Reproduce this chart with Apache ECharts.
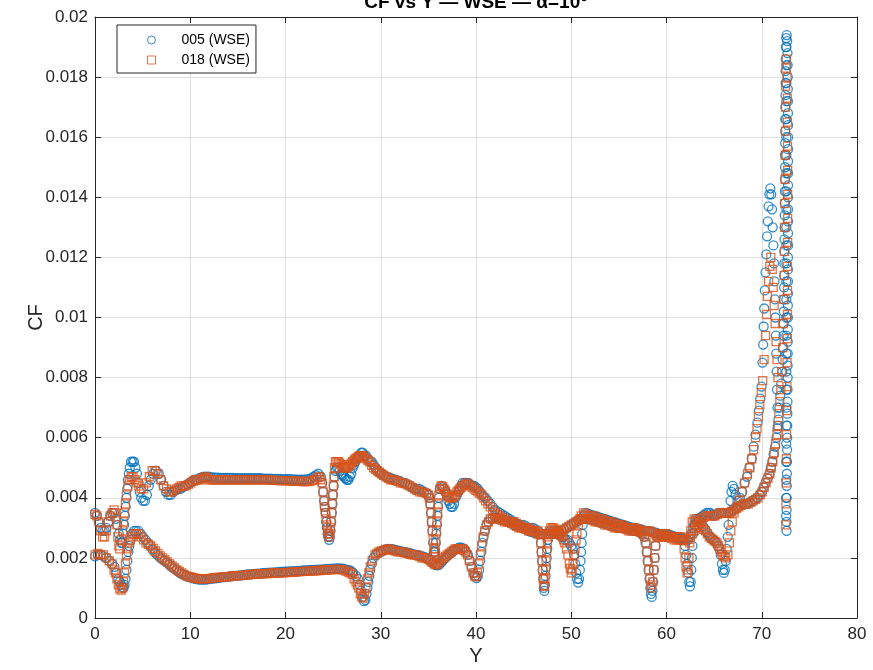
<!DOCTYPE html>
<html>
<head>
<meta charset="utf-8">
<script src="https://cdn.jsdelivr.net/npm/echarts/dist/echarts.min.js"></script>
<style>
  html, body { margin: 0; padding: 0; background: #fff; }
  #chart { width: 873px; height: 670px; }
</style>
</head>
<body>
<div id="chart"></div>
<script>
// Skin friction coefficient along the span, two runs. Each point is [Y, CF].

// Run 005 — upper band (root to tip)
const upper005 = [[0,0.0035],[0.2,0.0034],[0.4,0.0032],[0.6,0.0030],[0.8,0.0029],[1.0,0.0029],[1.2,0.0030],[1.4,0.0032],[1.6,0.0034],[1.8,0.0035],[2.0,0.0035],[2.2,0.0033],[2.35,0.0031],[2.5,0.0028],[2.62,0.0026],[2.75,0.0025],[2.88,0.0025],[2.98,0.0028],[3.06,0.0031],[3.14,0.0034],[3.22,0.0037],[3.3,0.0040],[3.38,0.0043],[3.46,0.0046],[3.55,0.0048],[3.65,0.0050],[3.78,0.0052],[3.95,0.0052],[4.1,0.0052],[4.25,0.0050],[4.4,0.0048],[4.55,0.0045],[4.7,0.0042],[4.85,0.0040],[5.05,0.0039],[5.25,0.0039],[5.45,0.0041],[5.65,0.0044],[5.85,0.0046],[6.1,0.0048],[6.4,0.0049],[6.7,0.0048],[6.95,0.0046],[7.2,0.0044],[7.45,0.0042],
[7.7,0.0041],[7.95,0.0041],[8.2,0.0042],[8.45,0.00425],[8.7,0.0043],[8.95,0.0043],[9.2,0.00435],[9.45,0.0044],[9.7,0.00445],[9.95,0.0045],[10.2,0.00455],[10.45,0.0046],[10.7,0.0046],[10.95,0.00465],[11.2,0.00468],[11.45,0.0047],[11.7,0.0047],[11.95,0.0047],[12.2,0.00468],[12.45,0.00468],[12.7,0.00467],[12.95,0.00467],[13.2,0.00466],[13.45,0.00466],[13.7,0.00466],[13.95,0.00466],[14.2,0.00466],[14.45,0.00466],[14.7,0.00465],[14.95,0.00465],[15.2,0.00465],[15.45,0.00465],[15.7,0.00465],[15.95,0.00465],[16.2,0.00465],[16.45,0.00465],[16.7,0.00465],[16.95,0.00465],[17.2,0.00465],[17.45,0.00465],[17.7,0.00464],[17.95,0.00464],[18.2,0.00464],[18.45,0.00464],[18.7,0.00463],[18.95,0.00463],[19.2,0.00463],[19.45,0.00463],[19.7,0.00462],[19.95,0.00462],[20.2,0.00462],[20.45,0.00462],[20.7,0.00461],[20.95,0.00461],[21.2,0.0046],[21.45,0.0046],[21.7,0.0046],[21.95,0.0046],[22.2,0.00461],[22.45,0.00462],[22.7,0.00465],[22.95,0.0047],[23.2,0.00475],[23.45,0.0048],[23.7,0.0047],
[23.85,0.0045],[23.95,0.0042],[24.05,0.0039],[24.12,0.0037],[24.2,0.0035],[24.27,0.0032],[24.35,0.0030],[24.42,0.0028],[24.5,0.0027],[24.58,0.0026],[24.66,0.0027],[24.73,0.0029],[24.8,0.0032],[24.87,0.0035],[24.94,0.0038],[25.0,0.0041],[25.07,0.0044],[25.15,0.0047],
[25.25,0.0049],[25.4,0.0050],[25.55,0.0050],[25.7,0.0049],[25.85,0.0048],[26.0,0.00475],[26.15,0.0047],[26.3,0.00465],[26.45,0.0046],[26.6,0.0046],[26.75,0.0047],[26.9,0.0048],[27.05,0.0050],[27.2,0.0051],[27.35,0.0052],[27.5,0.0053],[27.65,0.00535],[27.8,0.0054],[27.95,0.0055],[28.1,0.0055],[28.25,0.0054],[28.45,0.0054],[28.65,0.0053],[28.85,0.0052],[29.05,0.0052],[29.25,0.0051],[29.45,0.0050],[29.65,0.0049],[29.85,0.00485],[30.05,0.0048],[30.3,0.00475],[30.55,0.0047],[30.8,0.00467],[31.05,0.00465],[31.3,0.00462],[31.55,0.0046],[31.8,0.00457],[32.05,0.00455],[32.3,0.0045],[32.55,0.0045],[32.8,0.00445],[33.05,0.0044],[33.3,0.00435],[33.55,0.0043],[33.8,0.0043],[34.05,0.0043],[34.3,0.00425],[34.55,0.0042],[34.8,0.00415],[35.0,0.0041],
[35.1,0.0040],[35.2,0.0038],[35.28,0.0035],[35.35,0.0032],[35.42,0.0029],[35.5,0.0025],[35.57,0.0022],[35.65,0.0021],[35.72,0.0022],[35.78,0.0025],[35.84,0.0028],[35.9,0.0031],[35.96,0.0034],[36.02,0.0037],[36.1,0.0040],
[36.2,0.0043],[36.35,0.0044],[36.5,0.00435],[36.65,0.0043],[36.8,0.0042],[36.95,0.0041],[37.1,0.0039],[37.25,0.0038],[37.4,0.0037],[37.55,0.0037],[37.7,0.0038],[37.85,0.0040],[38.0,0.0041],[38.15,0.0042],[38.3,0.0043],[38.45,0.0044],[38.6,0.0045],[38.8,0.0045],[39.0,0.0045],[39.2,0.0045],[39.4,0.00445],[39.6,0.0044],[39.8,0.0044],[40.0,0.00435],[40.2,0.0043],[40.4,0.0042],[40.6,0.0041],[40.8,0.00405],[41.0,0.0040],[41.25,0.0039],[41.5,0.0038],[41.75,0.0037],[42.0,0.0036],[42.25,0.00355],[42.5,0.0035],[42.75,0.00345],[43.0,0.0034],[43.25,0.00335],[43.5,0.0033],[43.75,0.00325],[44.0,0.0032],[44.25,0.00315],[44.5,0.0031],[44.75,0.0031],[45.0,0.0031],[45.25,0.00305],[45.5,0.0030],[45.75,0.0030],[46.0,0.0030],[46.25,0.00295],[46.5,0.0029],
[46.75,0.0028],[46.82,0.0025],[46.88,0.0022],[46.94,0.0019],[47.0,0.0016],[47.06,0.0013],[47.12,0.0010],[47.18,0.0009],[47.24,0.0011],[47.3,0.0014],[47.36,0.0017],[47.42,0.0020],[47.48,0.0023],[47.55,0.0026],
[47.65,0.0028],[47.8,0.0029],[48.0,0.0029],[48.2,0.0029],[48.4,0.0029],[48.6,0.00285],[48.8,0.0028],[49.0,0.0027],[49.2,0.0027],[49.4,0.0026],[49.6,0.0026],[49.8,0.0025],[50.0,0.0024],
[50.15,0.0023],[50.3,0.0021],[50.42,0.0018],[50.52,0.0015],[50.62,0.0013],[50.72,0.00118],[50.82,0.0013],[50.9,0.0016],[50.97,0.0019],[51.03,0.0022],[51.09,0.0025],[51.15,0.0028],[51.2,0.0031],[51.3,0.0034],
[51.45,0.0035],[51.7,0.00348],[51.95,0.00345],[52.2,0.00342],[52.45,0.0034],[52.7,0.00337],[52.95,0.00335],[53.2,0.00332],[53.45,0.0033],[53.7,0.00327],[53.95,0.00325],[54.2,0.00322],[54.45,0.0032],[54.7,0.00317],[54.95,0.00315],[55.2,0.00312],[55.45,0.0031],[55.7,0.00307],[55.95,0.00305],[56.2,0.00302],[56.45,0.003],[56.7,0.003],[56.95,0.00298],[57.2,0.00296],[57.45,0.00294],[57.7,0.0029],[57.95,0.0029],[58.2,0.0029],[58.45,0.00288],[58.7,0.00285],[58.95,0.00283],[59.2,0.0028],[59.45,0.00278],[59.7,0.00276],[59.95,0.00274],[60.2,0.00272],[60.45,0.0027],[60.7,0.0027],[60.95,0.00268],[61.2,0.00266],[61.45,0.00264],[61.7,0.00262],[61.95,0.0026],[62.2,0.0026],[62.4,0.0027],[62.6,0.0028],[62.8,0.003],[63.0,0.0031],[63.2,0.0032],[63.4,0.0033],[63.6,0.00335],[63.8,0.0034],[64.0,0.00345],[64.2,0.0035],[64.4,0.0035],[64.6,0.0035],[64.8,0.00345],[65.0,0.0034],[65.25,0.00345],[65.5,0.0035],[65.75,0.0035],[66.0,0.0035],[66.25,0.0035],[66.5,0.0035],[66.75,0.00355],[67.0,0.0036],[67.25,0.00365],[67.5,0.0037],[67.75,0.00375],[68.0,0.0038],[68.25,0.0038],[68.5,0.0038],[68.75,0.00385],[69.0,0.0039],[69.25,0.00395],[69.5,0.004],[69.75,0.0041],[70.0,0.0042],[70.2,0.00435],[70.4,0.0045],[70.6,0.00465],[70.8,0.0048],[70.95,0.005],[71.1,0.0052],[71.25,0.00545],[71.4,0.0057],[71.55,0.006],[71.65,0.0063],[71.75,0.0066],[71.85,0.0070],[71.95,0.0074]];

// Run 005 — lower band
const lower005 = [[0,0.00205],[0.3,0.0021],[0.6,0.0021],[0.9,0.00205],[1.2,0.0020],[1.5,0.0019],[1.8,0.0018],[2.05,0.0017],[2.25,0.0015],[2.45,0.0013],[2.6,0.0012],[2.75,0.0011],[2.9,0.00102],[3.0,0.0010],[3.1,0.0011],[3.2,0.0013],[3.3,0.0016],[3.4,0.0019],[3.5,0.0022],[3.6,0.0024],[3.75,0.0026],[3.9,0.0028],
[4.1,0.0029],[4.3,0.0029],[4.55,0.0029],[4.8,0.0028],[5.05,0.0027],[5.3,0.0026],[5.55,0.0025],[5.8,0.0024],[6.05,0.00228],[6.3,0.00218],[6.55,0.0021],[6.8,0.00202],[7.05,0.00196],[7.3,0.0019],[7.55,0.00184],[7.8,0.00178],[8.05,0.0017],[8.3,0.00165],[8.55,0.0016],[8.8,0.00153],[9.05,0.00148],[9.3,0.00144],[9.55,0.0014],[9.8,0.00137],[10.05,0.00135],[10.3,0.00132],[10.55,0.0013],[10.8,0.00129],[11.05,0.00128],[11.3,0.00128],[11.55,0.00128],[11.8,0.00129],[12.05,0.0013],[12.3,0.00131],[12.55,0.00132],[12.8,0.00133],[13.05,0.00134],[13.3,0.00135],[13.55,0.00136],[13.8,0.00137],[14.05,0.00138],[14.3,0.00139],[14.55,0.0014],[14.8,0.0014],[15.05,0.00141],[15.3,0.00142],[15.55,0.00143],[15.8,0.00144],[16.05,0.00145],[16.3,0.00145],[16.55,0.00146],[16.8,0.00147],[17.05,0.00148],[17.3,0.00148],[17.55,0.00149],[17.8,0.0015],[18.05,0.0015],[18.3,0.00151],[18.55,0.00151],[18.8,0.00152],[19.05,0.00152],[19.3,0.00153],[19.55,0.00153],[19.8,0.00154],[20.05,0.00154],[20.3,0.00155],[20.55,0.00155],[20.8,0.00156],[21.05,0.00156],[21.3,0.00157],[21.55,0.00157],[21.8,0.00158],[22.05,0.00158],[22.3,0.00159],[22.55,0.00159],[22.8,0.0016],[23.05,0.0016],[23.3,0.00161],[23.55,0.00161],[23.8,0.00162],[24.05,0.00162],[24.3,0.00163],[24.55,0.00163],[24.8,0.00164],[25.05,0.00164],[25.3,0.00165],[25.55,0.00165],[25.8,0.00165],[26.05,0.00164],[26.3,0.00162],[26.55,0.0016],[26.8,0.00158],[27.0,0.00153],
[27.1,0.0015],[27.4,0.0014],[27.6,0.0013],[27.8,0.0011],[27.95,0.0009],[28.1,0.0007],[28.25,0.00056],[28.38,0.0006],[28.5,0.0008],[28.6,0.0010],[28.7,0.0012],[28.8,0.0014],[28.9,0.0016],[29.05,0.0018],[29.25,0.0020],
[29.5,0.0021],[29.75,0.00217],[30.0,0.0022],[30.25,0.00225],[30.5,0.00228],[30.75,0.0023],[31.0,0.0023],[31.25,0.00229],[31.5,0.00227],[31.75,0.00225],[32.0,0.00223],[32.25,0.00221],[32.5,0.0022],[32.75,0.00218],[33.0,0.00216],[33.25,0.00214],[33.5,0.00212],[33.75,0.0021],[34.0,0.00208],[34.25,0.00206],[34.5,0.00204],[34.75,0.00201],[35.0,0.00197],[35.25,0.0019],[35.5,0.00183],[35.75,0.00177],[35.95,0.00175],[36.15,0.00178],[36.35,0.00185],[36.55,0.00192],[36.75,0.00199],[36.95,0.00205],[37.15,0.00211],[37.35,0.00216],[37.55,0.00221],[37.75,0.00226],[37.95,0.0023],[38.15,0.00233],[38.35,0.00235],[38.55,0.00233],[38.75,0.0023],
[38.95,0.0022],[39.15,0.0021],[39.35,0.0019],[39.55,0.0017],[39.75,0.0015],[39.9,0.0014],[40.05,0.00133],[40.2,0.0014],[40.32,0.0016],[40.44,0.0019],[40.56,0.0022],[40.68,0.0025],[40.8,0.0027],[40.95,0.0029],[41.1,0.0031],[41.3,0.0032],
[41.5,0.0033],[41.75,0.00333],[42.0,0.00335],[42.25,0.00333],[42.5,0.0033],[42.75,0.00327],[43.0,0.00325],[43.25,0.00322],[43.5,0.0032],[43.75,0.00315],[44.0,0.0031],[44.25,0.00307],[44.5,0.00305],[44.75,0.00302],[45.0,0.003],[45.25,0.00295],[45.5,0.0029],[45.75,0.00287],[46.0,0.00285],[46.25,0.00282],[46.5,0.0028],[46.75,0.0028],[47.0,0.0028],[47.25,0.0028],[47.5,0.0028],[47.75,0.0028],[48.0,0.0028],[48.25,0.0028],[48.5,0.0028],[48.75,0.00285],[49.0,0.0029],[49.25,0.00295],[49.5,0.003],[49.75,0.00305],[50.0,0.0031],[50.25,0.00315],[50.5,0.0032],[50.75,0.00325],[51.0,0.0033],[51.25,0.0033],[51.5,0.0033],[51.75,0.0033],[52.0,0.0033],[52.25,0.00327],[52.5,0.00325],[52.75,0.00322],[53.0,0.0032],[53.25,0.00317],[53.5,0.00315],[53.75,0.00312],[54.0,0.0031],[54.25,0.00307],[54.5,0.00305],[54.75,0.00302],[55.0,0.003],[55.25,0.003],[55.5,0.003],[55.75,0.00297],[56.0,0.00295],[56.25,0.00292],[56.5,0.0029],[56.75,0.0029],[57.0,0.0029],[57.2,0.00285],[57.4,0.0028],
[57.65,0.0027],[57.8,0.0025],[57.92,0.0022],[58.02,0.0019],[58.12,0.0016],[58.22,0.0013],[58.3,0.0010],[58.38,0.0008],[58.45,0.0007],[58.52,0.0009],[58.6,0.0012],[58.68,0.0016],[58.76,0.0020],[58.85,0.0024],[58.98,0.0027],
[59.2,0.0028],[59.4,0.0028],[59.6,0.0028],[59.8,0.0028],[60.0,0.0028],[60.25,0.00277],[60.5,0.00275],[60.75,0.00272],[61.0,0.0027],[61.25,0.0027],[61.5,0.0027],[61.65,0.00265],[61.8,0.0026],
[61.95,0.0024],[62.08,0.0021],[62.2,0.0018],[62.3,0.0015],[62.38,0.0012],[62.46,0.00105],[62.54,0.0012],[62.6,0.0016],[62.66,0.0020],[62.72,0.0024],[62.8,0.0028],[62.9,0.0031],
[63.05,0.0033],[63.25,0.0033],[63.45,0.00323],[63.65,0.00315],[63.85,0.00305],[64.05,0.00295],[64.25,0.00285],[64.45,0.00275],[64.65,0.00268],[64.85,0.00262],[65.05,0.00257],[65.25,0.0025],[65.4,0.0024],[65.55,0.0023],
[65.7,0.0021],[65.82,0.0018],[65.92,0.0016],[66.02,0.0015],[66.12,0.0016],[66.22,0.0019],[66.32,0.0023],[66.42,0.0027],[66.52,0.0031],[66.62,0.0035],[66.72,0.0039],[66.82,0.0042],[66.95,0.0044],[67.1,0.0043],[67.25,0.0041],[67.45,0.0039],[67.7,0.0040],[67.95,0.0042],[68.2,0.0045],[68.45,0.0047],[68.7,0.0050],[68.95,0.0053],[69.15,0.0057],[69.35,0.0061],[69.55,0.0065],[69.7,0.0069],[69.85,0.0073],[69.98,0.0077]];

// Run 005 — tip region: inboard loop and the spike
const tip005 = [[70.08,0.0085],[70.15,0.0091],[70.2,0.0097],[70.26,0.0103],[70.32,0.0109],[70.4,0.0115],[70.48,0.0121],[70.56,0.0127],[70.64,0.0132],[70.72,0.0137],[70.8,0.0141],[70.9,0.0143],[71.0,0.0141],[71.08,0.0136],[71.15,0.0130],[71.22,0.0124],[71.28,0.0118],[71.33,0.0112],[71.38,0.0106],[71.43,0.0100],[71.48,0.0094],[71.52,0.0088],[71.56,0.0082],[71.6,0.0076],[71.65,0.0070],[71.7,0.0064],
[72.05,0.0078],[72.15,0.0082],[72.2,0.0086],[72.25,0.0090],[72.28,0.0094],[72.3,0.0098],[72.32,0.0102],[72.34,0.0106],[72.35,0.0110],[72.36,0.0114],[72.37,0.0118],[72.38,0.0122],[72.39,0.0126],[72.4,0.0130],[72.41,0.0134],[72.42,0.0138],[72.43,0.0142],[72.44,0.0146],[72.45,0.0150],[72.45,0.0154],[72.46,0.0158],[72.47,0.0162],[72.47,0.0166],[72.48,0.0170],[72.49,0.0174],[72.5,0.0178],[72.5,0.0182],[72.52,0.0186],[72.54,0.0190],[72.57,0.0193],[72.62,0.0194],
[72.67,0.0192],[72.7,0.0188],[72.72,0.0184],[72.73,0.0180],[72.74,0.0176],[72.75,0.0172],[72.75,0.0168],[72.76,0.0164],[72.76,0.0160],[72.76,0.0156],[72.76,0.0152],[72.76,0.0148],[72.76,0.0144],[72.76,0.0140],[72.76,0.0136],[72.76,0.0132],[72.76,0.0128],[72.76,0.0124],[72.75,0.0120],[72.75,0.0116],[72.75,0.0112],[72.75,0.0108],[72.74,0.0104],[72.74,0.0100],[72.74,0.0096],[72.73,0.0092],[72.73,0.0088],[72.72,0.0084],[72.72,0.0080],[72.71,0.0076],[72.7,0.0072],[72.69,0.0068],[72.68,0.0064],[72.67,0.0060],[72.66,0.0056],[72.65,0.0052],[72.64,0.0048],[72.63,0.0044],[72.62,0.0040],[72.61,0.0036],[72.6,0.0032],[72.6,0.0029],
[72.56,0.0034],[72.56,0.0040],[72.57,0.0046],[72.57,0.0052],[72.57,0.0058],[72.58,0.0064],[72.58,0.0070],[72.58,0.0076],[72.58,0.0082],[72.58,0.0088],[72.58,0.0094],[72.58,0.0100],[72.58,0.0106],[72.58,0.0112],[72.58,0.0118],[72.58,0.0124],[72.58,0.0130],[72.58,0.0136],[72.58,0.0142],[72.58,0.0148],[72.58,0.0154],[72.58,0.0160],[72.58,0.0166],[72.58,0.0172],[72.58,0.0178],[72.58,0.0184],[72.59,0.0190]];

// Run 018 — upper band
const upper018 = [[0,0.00345],[0.2,0.0034],[0.4,0.0032],[0.6,0.0029],[0.8,0.0027],[1.0,0.0027],[1.2,0.0029],[1.4,0.0032],[1.6,0.0034],[1.8,0.0035],[2.0,0.0036],[2.15,0.0035],[2.3,0.0031],[2.4,0.0027],[2.5,0.0024],[2.6,0.0023],[2.75,0.0026],[2.9,0.0029],[3.0,0.0032],[3.1,0.0035],[3.2,0.0038],[3.3,0.0041],[3.45,0.0044],[3.6,0.0046],[3.8,0.0047],[4.0,0.0047],[4.2,0.0046],[4.4,0.0045],[4.6,0.0044],[4.85,0.0043],[5.1,0.0043],[5.4,0.0045],[5.7,0.0047],[6.0,0.0049],[6.3,0.0049],[6.6,0.0048],[6.9,0.0046],[7.2,0.0044],[7.5,0.0043],
[7.8,0.0042],[8.05,0.0042],[8.3,0.00425],[8.55,0.0043],[8.8,0.00435],[9.05,0.0044],[9.3,0.0044],[9.55,0.0044],[9.8,0.00445],[10.05,0.0045],[10.3,0.00455],[10.55,0.0046],[10.8,0.0046],[11.05,0.0046],[11.3,0.00465],[11.55,0.0047],[11.8,0.00465],[12.05,0.0046],[12.3,0.0046],[12.55,0.0046],[12.8,0.0046],[13.05,0.0046],[13.3,0.0046],[13.55,0.0046],[13.8,0.0046],[14.05,0.0046],[14.3,0.0046],[14.55,0.0046],[14.8,0.0046],[15.05,0.0046],[15.3,0.0046],[15.55,0.0046],[15.8,0.0046],[16.05,0.0046],[16.3,0.0046],[16.55,0.0046],[16.8,0.0046],[17.05,0.0046],[17.3,0.0046],[17.55,0.0046],[17.8,0.0046],[18.05,0.0046],[18.3,0.00459],[18.55,0.00458],[18.8,0.00458],[19.05,0.00458],[19.3,0.00457],[19.55,0.00457],[19.8,0.00457],[20.05,0.00457],[20.3,0.00456],[20.55,0.00456],[20.8,0.00455],[21.05,0.00455],[21.3,0.00455],[21.55,0.00455],[21.8,0.00454],[22.05,0.00454],[22.3,0.00454],[22.55,0.00455],[22.8,0.00457],[23.05,0.0046],[23.3,0.00466],[23.55,0.0047],[23.7,0.0046],
[23.85,0.0045],[23.95,0.0042],[24.05,0.0039],[24.12,0.0037],[24.2,0.0035],[24.27,0.0033],[24.35,0.0031],[24.42,0.0029],[24.5,0.0028],[24.58,0.0027],[24.65,0.0028],[24.72,0.0030],[24.78,0.0032],[24.84,0.0035],[24.9,0.0038],[24.96,0.0041],[25.02,0.0044],[25.08,0.0047],[25.15,0.0050],
[25.25,0.0052],[25.4,0.0052],[25.55,0.0052],[25.7,0.00515],[25.85,0.0051],[26.0,0.00505],[26.15,0.005],[26.3,0.005],[26.45,0.005],[26.6,0.00505],[26.75,0.0051],[26.9,0.00515],[27.05,0.0052],[27.2,0.00525],[27.35,0.0053],[27.5,0.00533],[27.65,0.00537],[27.8,0.0054],[27.95,0.0054],[28.1,0.0054],[28.25,0.00535],[28.45,0.0053],[28.65,0.00525],[28.85,0.0052],[29.05,0.00508],[29.25,0.005],[29.45,0.00495],[29.65,0.0049],[29.85,0.00485],[30.05,0.0048],[30.3,0.00475],[30.55,0.0047],[30.8,0.00465],[31.05,0.0046],[31.3,0.0046],[31.55,0.00458],[31.8,0.00455],[32.05,0.0045],[32.3,0.0045],[32.55,0.00447],[32.8,0.00443],[33.05,0.0044],[33.3,0.00435],[33.55,0.0043],[33.8,0.00425],[34.05,0.0042],[34.3,0.0042],[34.55,0.00418],[34.8,0.00415],[35.0,0.0041],
[35.1,0.0040],[35.2,0.0038],[35.28,0.0035],[35.35,0.0032],[35.42,0.0029],[35.5,0.0026],[35.57,0.0023],[35.65,0.0022],[35.72,0.0023],[35.78,0.0026],[35.84,0.0029],[35.9,0.0032],[35.96,0.0035],[36.02,0.0038],[36.1,0.0041],
[36.2,0.0043],[36.35,0.0044],[36.5,0.00437],[36.65,0.0043],[36.8,0.00422],[36.95,0.00413],[37.1,0.00405],[37.25,0.004],[37.4,0.004],[37.55,0.004],[37.7,0.00405],[37.85,0.0041],[38.0,0.0042],[38.15,0.00425],[38.3,0.0043],[38.45,0.00435],[38.6,0.0044],[38.8,0.00445],[39.0,0.0045],[39.2,0.00445],[39.4,0.0044],[39.6,0.00435],[39.8,0.0043],[40.0,0.00425],[40.2,0.0042],[40.4,0.00415],[40.6,0.0041],[40.8,0.004],[41.0,0.0039],[41.25,0.0038],[41.5,0.0037],[41.75,0.0036],[42.0,0.0035],[42.25,0.00345],[42.5,0.0034],[42.75,0.00335],[43.0,0.0033],[43.25,0.00325],[43.5,0.0032],[43.75,0.0032],[44.0,0.0032],[44.25,0.00315],[44.5,0.0031],[44.75,0.00305],[45.0,0.003],[45.25,0.003],[45.5,0.003],[45.75,0.00295],[46.0,0.0029],[46.25,0.0029],[46.5,0.0029],
[46.75,0.0028],[46.82,0.0025],[46.88,0.0022],[46.94,0.0019],[47.0,0.0016],[47.06,0.0013],[47.12,0.00108],[47.18,0.00105],[47.24,0.0013],[47.3,0.0016],[47.36,0.0019],[47.42,0.0022],[47.48,0.0025],[47.56,0.0027],
[47.7,0.0029],[47.85,0.003],[48.0,0.003],[48.15,0.003],[48.3,0.00295],[48.45,0.0029],[48.6,0.00285],[48.75,0.0028],[48.9,0.00275],[49.05,0.0027],[49.2,0.0026],
[49.3,0.0025],[49.5,0.0023],[49.65,0.0021],[49.8,0.0018],[49.9,0.00165],[50.0,0.0015],[50.1,0.0016],[50.2,0.0018],[50.3,0.0021],[50.4,0.0023],[50.5,0.0026],[50.6,0.0028],[50.75,0.0031],[50.9,0.0033],[51.05,0.0034],
[51.3,0.0035],[51.55,0.00345],[51.8,0.0034],[52.05,0.0034],[52.3,0.0034],[52.55,0.00335],[52.8,0.0033],[53.05,0.0033],[53.3,0.0033],[53.55,0.00325],[53.8,0.0032],[54.05,0.0032],[54.3,0.0032],[54.55,0.00315],[54.8,0.0031],[55.05,0.0031],[55.3,0.0031],[55.55,0.00305],[55.8,0.003],[56.05,0.003],[56.3,0.003],[56.55,0.003],[56.8,0.00298],[57.05,0.00295],[57.3,0.0029],[57.55,0.0029],[57.8,0.0029],[58.05,0.0029],[58.3,0.00288],[58.55,0.00285],[58.8,0.0028],[59.05,0.00275],[59.3,0.0027],[59.55,0.0027],[59.8,0.0027],[60.05,0.0027],[60.3,0.00268],[60.55,0.00265],[60.8,0.0026],[61.05,0.0026],[61.3,0.0026],[61.55,0.0026],[61.8,0.0026],[62.05,0.0026],[62.3,0.00262],[62.5,0.0027],[62.7,0.0028],[62.9,0.0029],[63.1,0.003],[63.3,0.0031],[63.5,0.0032],[63.7,0.0033],[63.9,0.00335],[64.1,0.0034],[64.35,0.0034],[64.6,0.0034],[64.85,0.0034],[65.1,0.0034],[65.35,0.00345],[65.6,0.0035],[65.85,0.0035],[66.1,0.0035],[66.35,0.0035],[66.6,0.0035],[66.85,0.00355],[67.1,0.0036],[67.35,0.00365],[67.6,0.0037],[67.85,0.00375],[68.1,0.0038],[68.35,0.0038],[68.6,0.0038],[68.85,0.00385],[69.1,0.0039],[69.35,0.00395],[69.6,0.004],[69.85,0.0041],[70.05,0.0042],[70.25,0.00435],[70.45,0.0045],[70.65,0.00465],[70.85,0.0048],[71.0,0.005],[71.15,0.0052],[71.3,0.0055],[71.45,0.0058],[71.6,0.0061],[71.7,0.0064],[71.8,0.0068],[71.9,0.0072],[72.0,0.0076]];

// Run 018 — lower band
const lower018 = [[0,0.0021],[0.3,0.00215],[0.6,0.0021],[0.9,0.0021],[1.2,0.0020],[1.5,0.0019],[1.8,0.0018],[2.0,0.0016],[2.15,0.0015],[2.3,0.0013],[2.45,0.0011],[2.6,0.00097],[2.75,0.00093],[2.9,0.0010],[3.0,0.0012],[3.1,0.0015],[3.2,0.0018],[3.3,0.0021],[3.4,0.0023],[3.55,0.0025],[3.7,0.0026],[3.9,0.0027],
[4.1,0.0028],[4.35,0.0028],[4.6,0.0028],[4.85,0.0027],[5.1,0.0026],[5.35,0.0025],[5.6,0.00245],[5.85,0.0024],[6.1,0.00232],[6.35,0.00223],[6.6,0.00215],[6.85,0.00207],[7.1,0.002],[7.35,0.00193],[7.6,0.00187],[7.85,0.0018],[8.1,0.00173],[8.35,0.00167],[8.6,0.0016],[8.85,0.00155],[9.1,0.0015],[9.35,0.00145],[9.6,0.0014],[9.85,0.00138],[10.1,0.00136],[10.35,0.00134],[10.6,0.00132],[10.85,0.0013],[11.1,0.0013],[11.35,0.0013],[11.6,0.0013],[11.85,0.00131],[12.1,0.00132],[12.35,0.00133],[12.6,0.00134],[12.85,0.00135],[13.1,0.00135],[13.35,0.00136],[13.6,0.00137],[13.85,0.00138],[14.1,0.00138],[14.35,0.00139],[14.6,0.0014],[14.85,0.0014],[15.1,0.00141],[15.35,0.00142],[15.6,0.00142],[15.85,0.00143],[16.1,0.00144],[16.35,0.00145],[16.6,0.00145],[16.85,0.00146],[17.1,0.00146],[17.35,0.00147],[17.6,0.00147],[17.85,0.00148],[18.1,0.00148],[18.35,0.00149],[18.6,0.00149],[18.85,0.0015],[19.1,0.0015],[19.35,0.0015],[19.6,0.0015],[19.85,0.00151],[20.1,0.00151],[20.35,0.00152],[20.6,0.00152],[20.85,0.00153],[21.1,0.00153],[21.35,0.00154],[21.6,0.00154],[21.85,0.00155],[22.1,0.00155],[22.35,0.00156],[22.6,0.00156],[22.85,0.00157],[23.1,0.00157],[23.35,0.00158],[23.6,0.00158],[23.85,0.00159],[24.1,0.00159],[24.35,0.0016],[24.6,0.0016],[24.85,0.00161],[25.1,0.00161],[25.35,0.00162],[25.6,0.00162],[25.85,0.00161],[26.1,0.00159],[26.35,0.00156],[26.6,0.00153],[26.8,0.0015],
[27.0,0.00145],[27.2,0.0013],[27.4,0.0012],[27.55,0.0011],[27.7,0.0010],[27.85,0.0008],[28.0,0.0007],[28.15,0.00066],[28.3,0.0008],[28.45,0.0010],[28.6,0.0013],[28.75,0.0015],[28.9,0.0017],[29.1,0.0019],
[29.4,0.0021],[29.6,0.00215],[29.8,0.0022],[30.05,0.00223],[30.3,0.00225],[30.55,0.00228],[30.8,0.0023],[31.05,0.00228],[31.3,0.00225],[31.55,0.00223],[31.8,0.0022],[32.05,0.0022],[32.3,0.0022],[32.55,0.00217],[32.8,0.00215],[33.05,0.00212],[33.3,0.0021],[33.55,0.0021],[33.8,0.0021],[34.05,0.00205],[34.3,0.002],[34.55,0.002],[34.8,0.002],[35.0,0.00195],[35.2,0.0019],[35.4,0.00185],[35.6,0.0018],[35.75,0.00178],[35.9,0.00178],[36.05,0.00183],[36.2,0.0019],[36.4,0.00195],[36.6,0.002],[36.8,0.00205],[37.0,0.0021],[37.2,0.00215],[37.4,0.0022],[37.6,0.00225],[37.8,0.0023],[38.0,0.0023],[38.2,0.0023],[38.4,0.0023],[38.6,0.0023],[38.75,0.00225],
[38.9,0.0022],[39.1,0.0021],[39.3,0.0019],[39.5,0.0017],[39.7,0.0015],[39.85,0.0014],[40.0,0.00137],[40.15,0.0015],[40.3,0.0018],[40.45,0.0021],[40.6,0.0024],[40.75,0.0027],[40.9,0.0029],[41.1,0.0031],[41.3,0.0032],
[41.5,0.0033],[41.75,0.0033],[42.0,0.0033],[42.25,0.0033],[42.5,0.0033],[42.75,0.00325],[43.0,0.0032],[43.25,0.0032],[43.5,0.0032],[43.75,0.00315],[44.0,0.0031],[44.25,0.00305],[44.5,0.003],[44.75,0.003],[45.0,0.003],[45.25,0.00295],[45.5,0.0029],[45.75,0.0029],[46.0,0.0029],[46.25,0.00285],[46.5,0.0028],[46.75,0.0028],[47.0,0.0028],[47.25,0.0028],[47.5,0.0028],[47.75,0.0028],[48.0,0.0028],[48.25,0.0028],[48.5,0.0028],[48.75,0.00285],[49.0,0.0029],[49.25,0.00295],[49.5,0.003],[49.75,0.00305],[50.0,0.0031],[50.25,0.00315],[50.5,0.0032],[50.75,0.00325],[51.0,0.0033],[51.25,0.0033],[51.5,0.0033],[51.75,0.0033],[52.0,0.0033],[52.25,0.00325],[52.5,0.0032],[52.75,0.0032],[53.0,0.0032],[53.25,0.00315],[53.5,0.0031],[53.75,0.0031],[54.0,0.0031],[54.25,0.00305],[54.5,0.003],[54.75,0.003],[55.0,0.003],[55.25,0.003],[55.5,0.003],[55.75,0.00295],[56.0,0.0029],[56.25,0.0029],[56.5,0.0029],[56.75,0.0029],[57.0,0.0029],[57.25,0.00285],[57.5,0.0028],
[57.7,0.0027],[57.85,0.0025],[57.95,0.0022],[58.05,0.0019],[58.15,0.0016],[58.25,0.0013],[58.35,0.0011],[58.45,0.0010],[58.55,0.0012],[58.65,0.0016],[58.75,0.0020],[58.85,0.0024],
[59.0,0.0027],[59.2,0.00275],[59.4,0.0028],[59.65,0.0028],[59.9,0.0028],[60.15,0.00275],[60.4,0.0027],[60.65,0.0027],[60.9,0.0027],[61.1,0.0027],[61.3,0.0027],[61.5,0.0027],
[61.7,0.0026],[61.85,0.0023],[61.95,0.0020],[62.05,0.0017],[62.15,0.0015],[62.25,0.0016],[62.35,0.0020],[62.45,0.0025],[62.55,0.0029],[62.7,0.0032],
[62.9,0.0033],[63.1,0.00325],[63.3,0.0032],[63.5,0.0031],[63.7,0.003],[63.9,0.00295],[64.1,0.0029],[64.3,0.0028],[64.5,0.0027],[64.7,0.00265],[64.9,0.0026],[65.1,0.00255],[65.3,0.0025],[65.45,0.0024],[65.6,0.0023],[65.75,0.0022],[65.9,0.0021],[66.05,0.00205],[66.2,0.002],
[66.45,0.0021],[66.6,0.0025],[66.75,0.0029],[66.9,0.0032],[67.1,0.0035],[67.35,0.0037],[67.6,0.0039],[67.9,0.0042],[68.2,0.0045],[68.5,0.0048],[68.75,0.0050],[68.95,0.0053],[69.15,0.0056],[69.35,0.0060],[69.5,0.0063],[69.65,0.0067],[69.8,0.0071],[69.95,0.0075],[70.1,0.0079]];

// Run 018 — tip region
const tip018 = [[70.25,0.0086],[70.4,0.0094],[70.5,0.0101],[70.6,0.0107],[70.72,0.0112],[70.85,0.0117],[70.95,0.0120],[71.1,0.0116],[71.2,0.0110],[71.3,0.0104],[71.4,0.0098],[71.5,0.0092],[71.6,0.0086],[71.7,0.0080],
[72.1,0.0082],[72.2,0.0090],[72.25,0.0098],[72.3,0.0106],[72.35,0.0114],[72.38,0.0122],[72.4,0.0130],[72.42,0.0138],[72.45,0.0146],[72.47,0.0154],[72.5,0.0162],[72.5,0.0170],[72.52,0.0177],[72.55,0.0183],[72.58,0.0186],
[72.65,0.0180],[72.68,0.0173],[72.7,0.0165],[72.7,0.0157],[72.72,0.0149],[72.72,0.0141],[72.72,0.0133],[72.72,0.0125],[72.7,0.0117],[72.7,0.0109],[72.7,0.0101],[72.68,0.0093],[72.66,0.0085],[72.64,0.0077],[72.62,0.0069],[72.6,0.0061],[72.58,0.0053],[72.56,0.0045],[72.54,0.0038],[72.52,0.0031]];

const seriesNames = ['005 (WSE)', '018 (WSE)'];
const xTicks = { min: 0, max: 80, step: 10 };
const yTicks = { min: 0, max: 0.02, step: 0.002 };

const FONT = 'Liberation Sans, Arial, Helvetica, sans-serif';
const INK = '#262626';
const BLUE = '#0072BD';
const ORANGE = '#D95319';

// Plain frame axis (ticks pointing inward, no labels) — also used for the top and right edges of the box
function frameAxis(extra, t) {
  return Object.assign({
    type: 'value', min: t.min, max: t.max, interval: t.step,
    axisLine: { show: true, onZero: false, lineStyle: { color: INK, width: 1 } },
    axisTick: { show: true, inside: true, length: 6, lineStyle: { color: INK, width: 1 } },
    axisLabel: { show: false },
    splitLine: { show: false }
  }, extra);
}

const chart = echarts.init(document.getElementById('chart'), null, { renderer: 'canvas' });

chart.setOption({
  animation: false,
  backgroundColor: '#fff',
  textStyle: { fontFamily: FONT },
  grid: { left: 95, right: 16, top: 17, bottom: 52, containLabel: false, outerBoundsMode: 'none' },
  graphic: [{
    type: 'text', x: 476, y: 3, z: 100,
    style: {
      text: 'CF vs Y — WSE — α=10°',
      font: 'bold 19px "Liberation Sans", Arial, sans-serif',
      fill: '#000', align: 'center', verticalAlign: 'middle',
      textAlign: 'center', textVerticalAlign: 'middle'
    }
  }],
  legend: {
    orient: 'vertical', left: 117, top: 25,
    padding: [7, 6, 5, 30], itemGap: 4,
    itemWidth: 8, itemHeight: 8,
    borderColor: INK, borderWidth: 1, backgroundColor: '#fff',
    textStyle: { fontSize: 14, color: '#000', fontFamily: FONT, lineHeight: 16, padding: [0, 0, 0, 21] },
    selectedMode: false,
    data: [
      { name: seriesNames[0], icon: 'circle', itemStyle: { color: 'rgba(0,0,0,0)', borderColor: BLUE, borderWidth: 1 } },
      { name: seriesNames[1], icon: 'rect', itemStyle: { color: 'rgba(0,0,0,0)', borderColor: ORANGE, borderWidth: 1 } }
    ]
  },
  xAxis: [
    frameAxis({
      position: 'bottom',
      axisLabel: { show: true, fontSize: 17, color: INK, margin: 8, fontFamily: FONT, showMinLabel: true, showMaxLabel: true },
      splitLine: { show: true, lineStyle: { color: '#dfdfdf', width: 1 } },
      name: 'Y', nameLocation: 'middle', nameGap: 28, nameMoveOverlap: false,
      nameTextStyle: { fontSize: 20, color: INK, fontFamily: FONT }
    }, xTicks),
    frameAxis({ position: 'top' }, xTicks)
  ],
  yAxis: [
    frameAxis({
      position: 'left',
      axisLabel: {
        show: true, fontSize: 17, color: INK, margin: 7, fontFamily: FONT,
        showMinLabel: true, showMaxLabel: true,
        formatter: v => (v === 0 ? '0' : String(+v.toFixed(3)))
      },
      splitLine: { show: true, lineStyle: { color: '#dfdfdf', width: 1 } },
      name: 'CF', nameLocation: 'middle', nameGap: 49, nameRotate: 90, nameMoveOverlap: false,
      nameTextStyle: { fontSize: 20, color: INK, fontFamily: FONT }
    }, yTicks),
    frameAxis({ position: 'right' }, yTicks)
  ],
  series: [
    {
      name: seriesNames[0], type: 'scatter', xAxisIndex: 0, yAxisIndex: 0,
      data: upper005.concat(lower005, tip005),
      symbol: 'circle', symbolSize: 9, clip: false, silent: true,
      itemStyle: { color: 'rgba(0,0,0,0)', borderColor: BLUE, borderWidth: 1.3 }
    },
    {
      name: seriesNames[1], type: 'scatter', xAxisIndex: 0, yAxisIndex: 0,
      data: upper018.concat(lower018, tip018),
      symbol: 'rect', symbolSize: 8, clip: false, silent: true,
      itemStyle: { color: 'rgba(0,0,0,0)', borderColor: ORANGE, borderWidth: 1.3 }
    }
  ]
});
</script>
</body>
</html>
